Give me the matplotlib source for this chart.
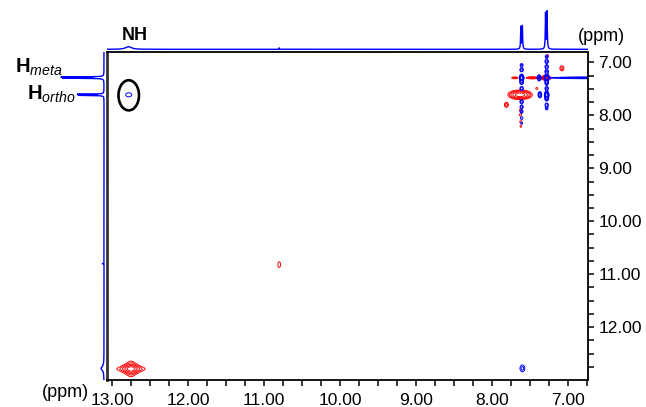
import numpy as np
import matplotlib.pyplot as plt
from matplotlib.patches import Ellipse
from matplotlib.ticker import MultipleLocator, FixedLocator, FormatStrFormatter

plt.rcParams['font.family'] = ['Liberation Sans', 'DejaVu Sans']
plt.rcParams['mathtext.fontset'] = 'custom'
plt.rcParams['mathtext.rm'] = 'Liberation Sans'
plt.rcParams['mathtext.it'] = 'Liberation Sans:italic'
plt.rcParams['mathtext.bf'] = 'Liberation Sans:bold'

# ==============================
# Data (ppm)
# ==============================

x_range = (13.066, 6.743)
y_range = (12.99, 6.796)
x_major = [7, 8, 9, 10, 11, 12, 13]
y_major = [7, 8, 9, 10, 11, 12]

# 1D projection (same for F1 and F2)
proj_ppm = [7.62, 7.60, 7.295, 7.275, 12.78, 10.80]
proj_height = [0.60, 0.62, 0.96, 1.00, 0.07, 0.04]
proj_hwhm = [0.004, 0.004, 0.004, 0.004, 0.045, 0.003]

# positive (red) 2D peaks: f2, f1, amplitude, width f2, width f1, shape
red_x = [12.75, 10.80, 7.63, 7.29, 7.47, 7.70, 7.08, 7.81, 7.625, 7.625, 7.62, 7.62, 7.27, 7.41]
red_y = [12.79, 10.82, 7.61, 7.29, 7.29, 7.29, 7.11, 7.80, 7.90, 7.99, 8.12, 8.21, 6.87, 7.49]
red_amp = [0.30, 0.055, 0.26, 0.22, 0.10, 0.08, 0.07, 0.07, 0.05, 0.05, 0.05, 0.045, 0.05, 0.05]
red_sx = [0.073, 0.022, 0.083, 0.035, 0.06, 0.035, 0.025, 0.025, 0.02, 0.02, 0.02, 0.02, 0.02, 0.02]
red_sy = [0.058, 0.068, 0.047, 0.025, 0.014, 0.014, 0.045, 0.045, 0.03, 0.03, 0.03, 0.03, 0.03, 0.025]
red_shape = ['l', 'g', 'g', 'g', 'g', 'g', 'g', 'g', 'g', 'g', 'g', 'g', 'g', 'g']

# negative (blue) 2D peaks
blue_x = [12.78, 7.60, 7.61, 7.28, 7.28, 7.38, 7.37, 6.70,
          7.28, 7.28, 7.28, 7.28, 7.28, 7.28, 7.28, 7.28, 7.28,
          7.61, 7.61, 7.61, 7.61, 7.61, 7.61, 7.61, 7.61, 7.61]
blue_y = [7.61, 12.78, 7.29, 7.61, 7.29, 7.29, 7.61, 7.29,
          6.89, 6.98, 7.08, 7.17, 7.39, 7.49, 7.69, 7.80, 7.87,
          7.05, 7.14, 7.38, 7.49, 7.74, 7.84, 7.93, 8.05, 8.15]
blue_amp = [0.055, 0.07, 0.30, 0.30, 0.30, 0.12, 0.12, 0.10,
            0.07, 0.09, 0.09, 0.09, 0.09, 0.09, 0.09, 0.08, 0.06,
            0.07, 0.09, 0.09, 0.09, 0.09, 0.08, 0.07, 0.06, 0.05]
blue_sx = [0.05, 0.03, 0.015, 0.015, 0.015, 0.016, 0.016, 0.40] + [0.018] * 18
blue_sy = [0.047, 0.06, 0.035, 0.035, 0.04, 0.04, 0.04, 0.012] + [0.028] * 18

levels = [0.04, 0.06, 0.09, 0.135, 0.2]


def spectrum_2d(gx, gy, px, py, amp, sx, sy, shape=None):
    z = np.zeros((len(gy), len(gx)))
    for i in range(len(px)):
        if shape is not None and shape[i] == 'l':
            fx = 1.0 / (1 + ((gx - px[i]) / sx[i]) ** 2)
            fy = 1.0 / (1 + ((gy - py[i]) / sy[i]) ** 2)
        else:
            fx = np.exp(-(gx - px[i]) ** 2 / (2 * sx[i] ** 2))
            fy = np.exp(-(gy - py[i]) ** 2 / (2 * sy[i] ** 2))
        z += amp[i] * np.outer(fy, fx)
    return z


gx = np.arange(6.74, 13.07, 0.003)
gy = np.arange(6.79, 13.0, 0.003)
z_pos = spectrum_2d(gx, gy, red_x, red_y, red_amp, red_sx, red_sy, red_shape)
z_neg = spectrum_2d(gx, gy, blue_x, blue_y, blue_amp, blue_sx, blue_sy)

g1 = np.arange(6.70, 13.10, 0.0005)
proj = np.zeros_like(g1)
for p, h, w in zip(proj_ppm, proj_height, proj_hwhm):
    proj += h / (1 + ((g1 - p) / w) ** 2)

# ==============================
# Figure
# ==============================

fig = plt.figure(figsize=(6.46, 4.07), dpi=100)
W, H = 646.0, 407.0

ax = fig.add_axes([107 / W, 1 - 379.5 / H, 480.5 / W, 327.8 / H])
ax.contour(gx, gy, z_pos, levels=levels, colors='red', linewidths=0.7)
ax.contour(gx, gy, z_neg, levels=levels, colors='blue', linewidths=0.7)
ax.add_patch(Ellipse((12.78, 7.62), 0.27, 0.57, fill=False, ec='black', lw=1.9))

ax.set_xlim(x_range)
ax.set_ylim(y_range)
ax.xaxis.set_major_locator(FixedLocator(x_major))
ax.xaxis.set_minor_locator(MultipleLocator(0.25))
ax.yaxis.set_major_locator(FixedLocator(y_major))
ax.yaxis.set_minor_locator(MultipleLocator(0.25))
ax.xaxis.set_major_formatter(FormatStrFormatter('%.2f'))
ax.yaxis.set_major_formatter(FormatStrFormatter('%.2f'))
ax.yaxis.tick_right()
ax.tick_params(which='both', direction='out', labelsize=12.5, width=1.1, length=4)
ax.tick_params(axis='x', pad=6)
ax.tick_params(axis='y', pad=4)
for s in ax.spines.values():
    s.set_linewidth(1.3)
ax.spines['left'].set_color('#333333')
ax.spines['left'].set_linewidth(2)

# top projection
axt = fig.add_axes([107 / W, 1 - 51.7 / H, 480.5 / W, 43 / H])
axt.plot(g1, proj, color='blue', lw=1)
axt.set_xlim(x_range)
axt.set_ylim(-0.064, 1.089)
axt.axis('off')

# left projection
axl = fig.add_axes([50 / W, 1 - 379.5 / H, 57 / W, 327.8 / H])
axl.plot(proj, g1, color='blue', lw=1)
axl.set_ylim(y_range)
axl.set_xlim(1.30, -0.072)
axl.axis('off')

fig.text(122 / W, 1 - 40 / H, 'NH', fontsize=13, fontweight='bold', ha='left', va='baseline')
fig.text(15 / W, 1 - 73 / H, r'$\mathbf{H}_{\mathit{meta}}$', fontsize=14.5, ha='left', va='baseline')
fig.text(27 / W, 1 - 100 / H, r'$\mathbf{H}_{\mathit{ortho}}$', fontsize=14.5, ha='left', va='baseline')
fig.text(578 / W, 1 - 41 / H, '(ppm)', fontsize=13, ha='left', va='baseline')
fig.text(42 / W, 1 - 397 / H, '(ppm)', fontsize=13, ha='left', va='baseline')

fig.savefig('out.png', dpi=100)
